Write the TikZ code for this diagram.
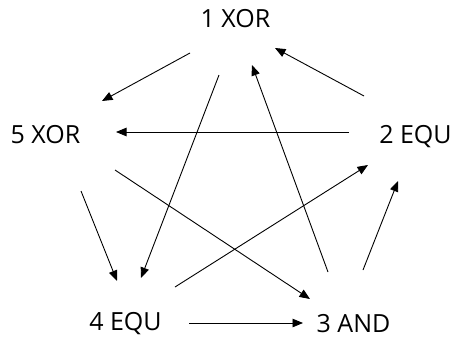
\documentclass[tikz,border=0pt]{standalone}
\usepackage{fontspec}
\setmainfont{Open Sans}
\usetikzlibrary{arrows.meta,calc}
\begin{document}
\begin{tikzpicture}[x=1pt,y=-1pt,
  lbl/.style={anchor=base,inner sep=0pt,font=\fontsize{25}{30}\selectfont},
  arr/.style={line width=0.9pt,-{Triangle[length=10.5pt,width=8.5pt]}}]
\useasboundingbox (0,0) rectangle (455,338);
\node[lbl] (n1) at (235.5,27) {1 XOR};
\node[lbl] (n5) at (45.5,143) {5 XOR};
\node[lbl] (n2) at (415.5,143) {2 EQU};
\node[lbl] (n4) at (125.5,330) {4 EQU};
\node[lbl] (n3) at (353.5,332) {3 AND};
\draw[arr] ($(n1.base)+(-45.5,26)$) -- ($(n5.base)+(56.5,-42)$);
\draw[arr] ($(n2.base)+(-51.5,-47)$) -- ($(n1.base)+(39.5,21)$);
\draw[arr] ($(n2.base)+(-66.5,-11)$) -- ($(n5.base)+(70.5,-11)$);
\draw[arr] ($(n1.base)+(-16.5,48)$) -- ($(n4.base)+(15.5,-52)$);
\draw[arr] ($(n3.base)+(-25.5,-60)$) -- ($(n1.base)+(16.5,38)$);
\draw[arr] ($(n5.base)+(69.5,27)$) -- ($(n3.base)+(-43.5,-33)$);
\draw[arr] ($(n4.base)+(49.5,-43)$) -- ($(n2.base)+(-47.5,22)$);
\draw[arr] ($(n5.base)+(35.5,48)$) -- ($(n4.base)+(-8.5,-49)$);
\draw[arr] ($(n3.base)+(9.5,-62)$) -- ($(n2.base)+(-17.5,38)$);
\draw[arr] ($(n4.base)+(63.5,-7)$) -- ($(n3.base)+(-50.5,-9)$);
\end{tikzpicture}
\end{document}
